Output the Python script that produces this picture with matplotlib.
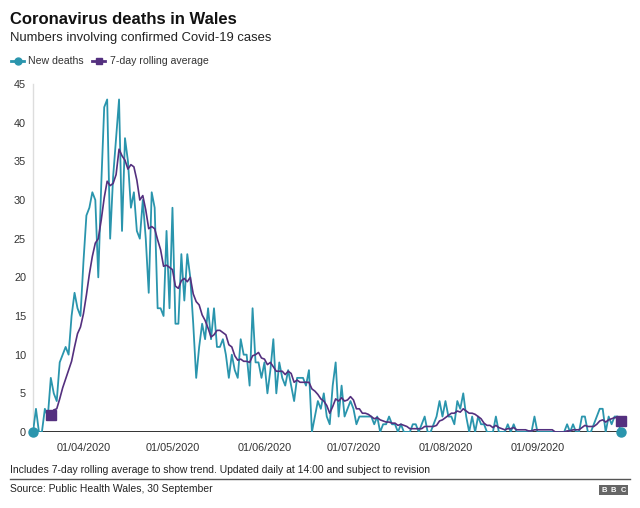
import pandas as pd
import numpy as np
import matplotlib
matplotlib.use("Agg")
import matplotlib.pyplot as plt
import matplotlib.dates as mdates
from matplotlib.lines import Line2D

plt.rcParams['font.family'] = ['Liberation Sans', 'DejaVu Sans']

# ── Datos: muertes diarias en Gales, 15/03/2020 – 29/09/2020 ──
fecha_inicio = "2020-03-15"
nuevas_muertes = [
    0, 3, 0, 0, 3, 2, 7, 5, 4, 9,            # 15-24 mar
    10, 11, 10, 15, 18, 16, 15, 22, 28, 29,  # 25 mar - 3 abr
    31, 30, 20, 32, 42, 43, 25, 33, 38, 43,  # 4-13 abr
    26, 38, 35, 29, 31, 26, 25, 30, 25, 18,  # 14-23 abr
    31, 29, 16, 16, 15, 26, 16, 29, 14, 14,  # 24 abr - 3 may
    23, 17, 23, 20, 14, 7, 11, 14, 12, 16,   # 4-13 may
    12, 16, 11, 11, 12, 10, 7, 10, 8, 7,     # 14-23 may
    12, 10, 10, 6, 16, 9, 9, 7, 9, 5,        # 24 may - 2 jun
    8, 12, 5, 9, 7, 6, 8, 6, 4, 7,           # 3-12 jun
    7, 7, 6, 8, 0, 2, 4, 3, 5, 2,            # 13-22 jun
    1, 6, 9, 2, 6, 2, 3, 4, 3, 1,            # 23 jun - 2 jul
    2, 2, 2, 2, 2, 1, 2, 0, 1, 1,            # 3-12 jul
    2, 1, 1, 0, 1, 0, 0, 0, 1, 1,            # 13-22 jul
    0, 1, 2, 0, 0, 1, 2, 4, 2, 4,            # 23 jul - 1 ago
    2, 2, 1, 4, 3, 5, 2, 0, 2, 0,            # 2-11 ago
    2, 1, 1, 0, 0, 0, 2, 0, 0, 0,            # 12-21 ago
    1, 0, 1, 0, 0, 0, 0, 0, 0, 2,            # 22-31 ago
    0, 0, 0, 0, 0, 0, 0, 0, 0, 0,            # 1-10 sep
    1, 0, 1, 0, 0, 2, 2, 0, 0, 1,            # 11-20 sep
    2, 3, 3, 0, 2, 1, 2, 2, 0,               # 21-29 sep
]

fechas = pd.date_range(fecha_inicio, periods=len(nuevas_muertes), freq="D")
serie = pd.Series(nuevas_muertes, index=fechas)
media_7d = serie.rolling(7).mean().dropna()

meses_ticks = [4, 5, 6, 7, 8, 9]
y_ticks = list(range(0, 50, 5))

TEAL = '#2a95ad'
MORADO = '#54307f'

# ── Figura ────────────────────────────────────────────────
fig = plt.figure(figsize=(6.4, 5.08), dpi=100)
ax = fig.add_axes([33/640, 1 - 432/508, 589/640, 348/508])

ax.plot(serie.index, serie.values, color=TEAL, lw=1.3, zorder=3)
ax.plot(media_7d.index, media_7d.values, color=MORADO, lw=1.2, zorder=4)

# marcadores de inicio y fin
ax.plot([serie.index[0], serie.index[-1]], [serie.iloc[0], serie.iloc[-1]],
        'o', color=TEAL, ms=6.5, zorder=6, clip_on=False)
ax.plot([media_7d.index[0], media_7d.index[-1]], [media_7d.iloc[0], media_7d.iloc[-1]],
        's', color=MORADO, ms=6.5, zorder=5, clip_on=False)

ax.axhline(0, color='#222222', lw=1.3, zorder=2)

ax.set_xlim(serie.index[0], serie.index[-1] + pd.Timedelta(hours=12))
ax.set_ylim(0, 45)
ax.set_yticks(y_ticks)
ax.xaxis.set_major_locator(mdates.MonthLocator(bymonth=meses_ticks))
ax.xaxis.set_major_formatter(mdates.DateFormatter('%d/%m/%Y'))

ax.tick_params(axis='both', length=0, labelsize=7.8, colors='#333333')
ax.tick_params(axis='x', pad=8)
ax.tick_params(axis='y', pad=5)
for lado in ['top', 'right', 'bottom']:
    ax.spines[lado].set_visible(False)
ax.spines['left'].set_color('#dddddd')
ax.spines['left'].set_linewidth(1)

# ── Títulos ───────────────────────────────────────────────
fig.text(10/640, 1 - 20/508, 'Coronavirus deaths in Wales', fontsize=12,
         fontweight='bold', va='center', ha='left', color='#111111')
fig.text(10/640, 1 - 38/508, 'Numbers involving confirmed Covid-19 cases',
         fontsize=9.4, va='center', ha='left', color='#222222')

# ── Leyenda ───────────────────────────────────────────────
yl = 1 - 61/508
fig.add_artist(Line2D([11/640, 24/640], [yl, yl], color=TEAL, lw=2))
fig.add_artist(Line2D([17.5/640], [yl], color=TEAL, marker='o', ms=5, lw=0))
fig.text(28/640, yl, 'New deaths', fontsize=7.6, va='center', ha='left', color='#333333')
fig.add_artist(Line2D([92/640, 105/640], [yl, yl], color=MORADO, lw=2))
fig.add_artist(Line2D([98.5/640], [yl], color=MORADO, marker='s', ms=5, lw=0))
fig.text(110/640, yl, '7-day rolling average', fontsize=7.6, va='center', ha='left',
         color='#333333')

# ── Pie ───────────────────────────────────────────────────
fig.text(10/640, 1 - 470/508,
         'Includes 7-day rolling average to show trend. Updated daily at 14:00 and subject to revision',
         fontsize=7.5, va='center', ha='left', color='#222222')
fig.add_artist(Line2D([10/640, 630/640], [1 - 479/508, 1 - 479/508], color='#555555', lw=1))
fig.text(10/640, 1 - 489/508, 'Source: Public Health Wales, 30 September',
         fontsize=7.5, va='center', ha='left', color='#222222')
for k, letra in enumerate('BBC'):
    fig.text((604 + k * 9.5)/640, 1 - 490/508, letra, fontsize=5.5, fontweight='bold',
             color='white', va='center', ha='center',
             bbox=dict(boxstyle='square,pad=0.25', fc='#666666', ec='none'))

plt.savefig('out.png', dpi=100)
